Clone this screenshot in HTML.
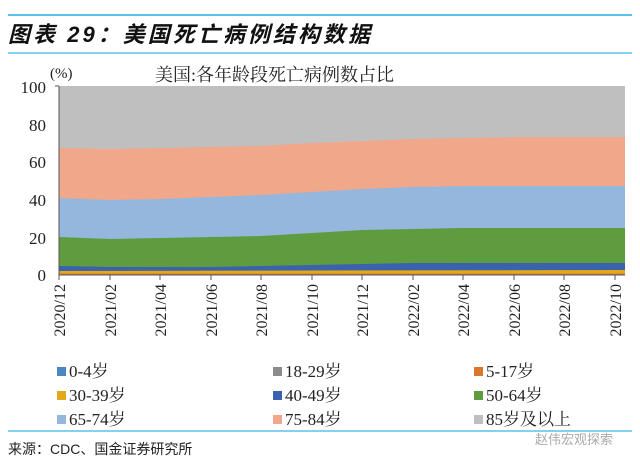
<!DOCTYPE html>
<html><head><meta charset="utf-8"><style>
body{margin:0;background:#fff;width:640px;height:466px;overflow:hidden;font-family:"Liberation Serif","Noto Serif CJK SC",serif}
</style></head><body>
<svg width="640" height="466" xmlns="http://www.w3.org/2000/svg">
<line x1="8" y1="15" x2="632" y2="15" stroke="#5bc0eb" stroke-width="2"/>
<text x="8" y="42" font-family="Liberation Sans,'Noto Sans CJK SC',sans-serif" font-size="22" font-weight="bold" font-style="italic" fill="#111" textLength="362" lengthAdjust="spacing">图表 29：美国死亡病例结构数据</text>
<line x1="8" y1="53" x2="632" y2="53" stroke="#5bc0eb" stroke-width="1.5"/>
<text x="50" y="78" font-size="15" fill="#222">(%)</text>
<text x="155" y="81" font-size="18" fill="#222">美国:各年龄段死亡病例数占比</text>
<g id="plot">
<polygon fill="#bfbfbf" points="59,86 625,86 625,275 59,275"/>
<polygon fill="#f0a78a" points="59,148 110,149 160,148 211,147 261,146 312,143 362,141 413,139 463,138 514,137 564,137 625,137 625,275 59,275"/>
<polygon fill="#95b7de" points="59,198 110,200 160,199 211,197 261,195 312,192 362,189 413,187 463,186 514,186 564,186 625,186 625,275 59,275"/>
<polygon fill="#5e9c3f" points="59,237 110,239 160,238 211,237 261,236 312,233 362,230 413,229 463,228 514,228 564,228 625,228 625,275 59,275"/>
<polygon fill="#3b62ad" points="59,266 110,267 160,267 211,267 261,266 312,265 362,264 413,263 463,263 514,263 564,263 625,263 625,275 59,275"/>
<polygon fill="#e3a91a" points="59,271 625,270 625,275 59,275"/>
<polygon fill="#d9772f" points="59,273.5 625,273.5 625,275 59,275"/>
</g>
<g stroke="#555" stroke-width="1">
<line x1="59" y1="86" x2="59" y2="275"/>
<line x1="59" y1="275" x2="625" y2="275"/>
<line x1="55" y1="86" x2="59" y2="86"/>
</g>
<g font-size="17" fill="#222" text-anchor="end">
<text x="46" y="93">100</text><text x="46" y="131">80</text><text x="46" y="168">60</text><text x="46" y="206">40</text><text x="46" y="244">20</text><text x="46" y="281">0</text>
</g>
<g stroke="#555"><line x1="59" y1="275" x2="59" y2="280"/><line x1="110" y1="275" x2="110" y2="280"/><line x1="160" y1="275" x2="160" y2="280"/><line x1="211" y1="275" x2="211" y2="280"/><line x1="261" y1="275" x2="261" y2="280"/><line x1="312" y1="275" x2="312" y2="280"/><line x1="362" y1="275" x2="362" y2="280"/><line x1="413" y1="275" x2="413" y2="280"/><line x1="463" y1="275" x2="463" y2="280"/><line x1="514" y1="275" x2="514" y2="280"/><line x1="564" y1="275" x2="564" y2="280"/><line x1="615" y1="275" x2="615" y2="280"/></g>
<g font-size="16" fill="#222" text-anchor="end">
<text transform="translate(65,284) rotate(-90)">2020/12</text>
<text transform="translate(116,284) rotate(-90)">2021/02</text>
<text transform="translate(166,284) rotate(-90)">2021/04</text>
<text transform="translate(217,284) rotate(-90)">2021/06</text>
<text transform="translate(267,284) rotate(-90)">2021/08</text>
<text transform="translate(318,284) rotate(-90)">2021/10</text>
<text transform="translate(368,284) rotate(-90)">2021/12</text>
<text transform="translate(419,284) rotate(-90)">2022/02</text>
<text transform="translate(469,284) rotate(-90)">2022/04</text>
<text transform="translate(520,284) rotate(-90)">2022/06</text>
<text transform="translate(570,284) rotate(-90)">2022/08</text>
<text transform="translate(621,284) rotate(-90)">2022/10</text>
</g>
<g font-size="17" fill="#222">
<rect x="57" y="367" width="9" height="9" fill="#4a86c0"/><text x="69" y="377">0-4岁</text>
<rect x="273" y="367" width="9" height="9" fill="#8c8c8c"/><text x="285" y="377">18-29岁</text>
<rect x="474" y="367" width="9" height="9" fill="#d9772f"/><text x="486" y="377">5-17岁</text>
<rect x="57" y="391" width="9" height="9" fill="#e3a91a"/><text x="69" y="401">30-39岁</text>
<rect x="273" y="391" width="9" height="9" fill="#3b62ad"/><text x="285" y="401">40-49岁</text>
<rect x="474" y="391" width="9" height="9" fill="#5e9c3f"/><text x="486" y="401">50-64岁</text>
<rect x="57" y="415" width="9" height="9" fill="#95b7de"/><text x="69" y="425">65-74岁</text>
<rect x="273" y="415" width="9" height="9" fill="#f0a78a"/><text x="285" y="425">75-84岁</text>
<rect x="474" y="415" width="9" height="9" fill="#bfbfbf"/><text x="486" y="425">85岁及以上</text>
</g>
<line x1="8" y1="431" x2="632" y2="431" stroke="#5bc0eb" stroke-width="1.5"/>
<text x="8" y="454" font-family="Liberation Sans,'Noto Sans CJK SC',sans-serif" font-size="14" fill="#222">来源：CDC、国金证券研究所</text>
<text x="535" y="444" font-family="Liberation Sans,'Noto Sans CJK SC',sans-serif" font-size="13" fill="#aaa">赵伟宏观探索</text>
</svg>
</body></html>
